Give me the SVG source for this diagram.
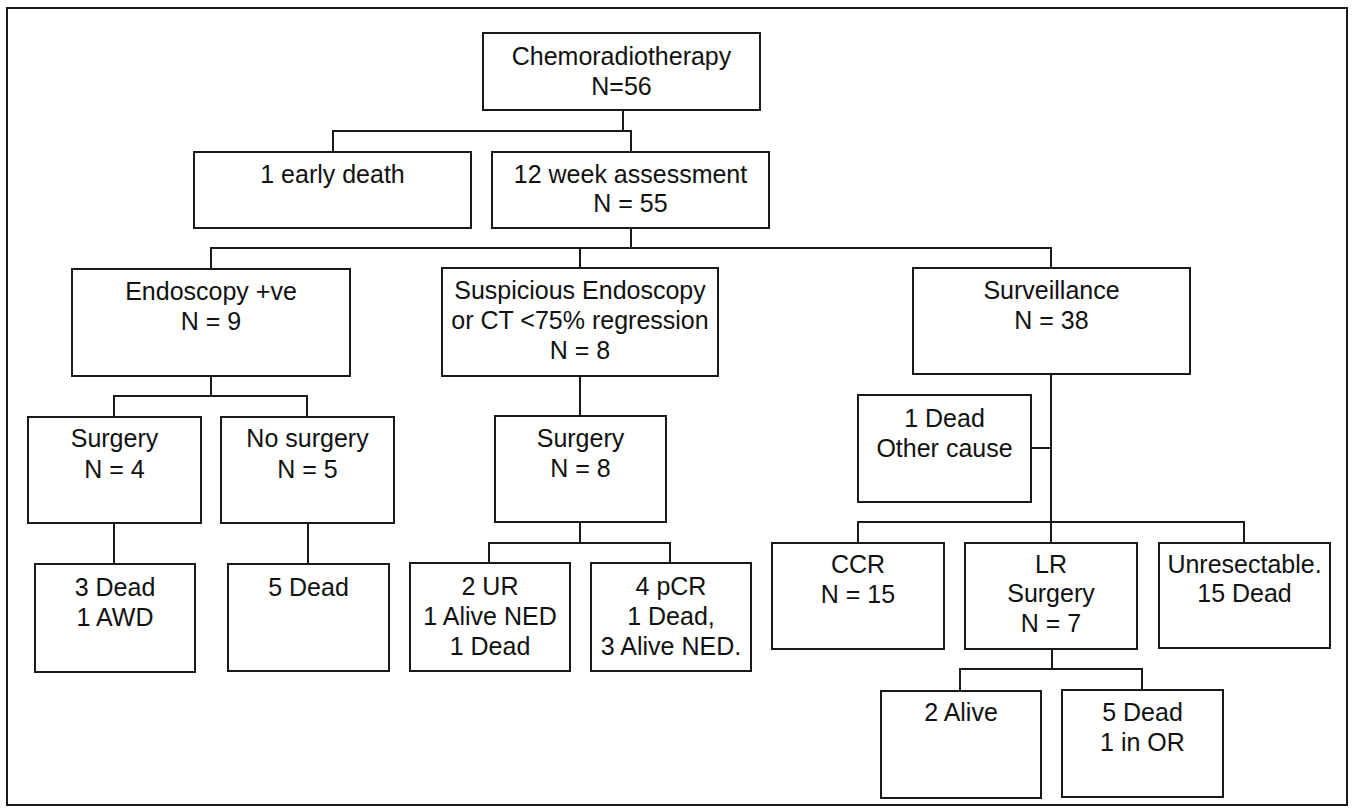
<svg xmlns="http://www.w3.org/2000/svg" width="1355" height="809" viewBox="0 0 1355 809">
<style>
  .box { fill: #ffffff; stroke: #1a1a1a; stroke-width: 2; }
  .conn { fill: none; stroke: #1a1a1a; stroke-width: 2; }
  text { font-family: "Liberation Sans", Arial, sans-serif; font-size: 25px; fill: #111111; text-anchor: middle; }
</style>
<rect x="0" y="0" width="1355" height="809" fill="#ffffff"/>
<rect x="7" y="8" width="1340" height="797" fill="none" stroke="#1a1a1a" stroke-width="2"/>
<g id="connectors">
  <path class="conn" d="M623 110 V131 M333 152 V131 H631 V152"/>
  <path class="conn" d="M631 228 V248 M211 269 V248 H1051 V268 M580 248 V268"/>
  <path class="conn" d="M211 376 V396 M114 417 V396 H307 V417"/>
  <path class="conn" d="M580 376 V416"/>
  <path class="conn" d="M1051 374 V543 M1031 448 H1051 M858 543 V522 H1244 V543"/>
  <path class="conn" d="M114 523 V564 M308 523 V564"/>
  <path class="conn" d="M580 522 V543 M489 563 V543 H670 V563"/>
  <path class="conn" d="M1052 649 V669 M960 691 V669 H1142 V690"/>
</g>
<g id="chemo"><rect class="box" x="483" y="33" width="277" height="77"/><text x="621.5" y="65">Chemoradiotherapy</text><text x="621.5" y="95">N=56</text></g>
<g id="early-death"><rect class="box" x="194" y="152" width="277" height="76"/><text x="332.5" y="183">1 early death</text></g>
<g id="week12"><rect class="box" x="492" y="152" width="277" height="76"/><text x="630.5" y="183">12 week assessment</text><text x="630.5" y="212">N = 55</text></g>
<g id="endoscopy"><rect class="box" x="72" y="269" width="278" height="107"/><text x="211" y="300">Endoscopy +ve</text><text x="211" y="330">N = 9</text></g>
<g id="suspicious"><rect class="box" x="442" y="268" width="276" height="108"/><text x="580" y="299">Suspicious Endoscopy</text><text x="580" y="329">or CT &lt;75% regression</text><text x="580" y="359">N = 8</text></g>
<g id="surveillance"><rect class="box" x="913" y="268" width="277" height="106"/><text x="1051.5" y="299">Surveillance</text><text x="1051.5" y="329">N = 38</text></g>
<g id="surgery4"><rect class="box" x="28" y="417" width="173" height="106"/><text x="114.5" y="447">Surgery</text><text x="114.5" y="478">N = 4</text></g>
<g id="nosurgery"><rect class="box" x="221" y="417" width="173" height="106"/><text x="307.5" y="447">No surgery</text><text x="307.5" y="478">N = 5</text></g>
<g id="surgery8"><rect class="box" x="495" y="416" width="171" height="106"/><text x="580.5" y="447">Surgery</text><text x="580.5" y="477">N = 8</text></g>
<g id="dead-other"><rect class="box" x="858" y="395" width="173" height="107"/><text x="944.5" y="427">1 Dead</text><text x="944.5" y="457">Other cause</text></g>
<g id="dead3"><rect class="box" x="35" y="564" width="160" height="108"/><text x="115" y="596">3 Dead</text><text x="115" y="626">1 AWD</text></g>
<g id="dead5"><rect class="box" x="228" y="564" width="161" height="107"/><text x="308.5" y="596">5 Dead</text></g>
<g id="ur2"><rect class="box" x="410" y="563" width="160" height="108"/><text x="490" y="595">2 UR</text><text x="490" y="625">1 Alive NED</text><text x="490" y="655">1 Dead</text></g>
<g id="pcr4"><rect class="box" x="591" y="563" width="160" height="108"/><text x="671" y="595">4 pCR</text><text x="671" y="625">1 Dead,</text><text x="671" y="655">3 Alive NED.</text></g>
<g id="ccr"><rect class="box" x="772" y="543" width="172" height="106"/><text x="858" y="573">CCR</text><text x="858" y="603">N = 15</text></g>
<g id="lr"><rect class="box" x="965" y="543" width="172" height="106"/><text x="1051" y="573">LR</text><text x="1051" y="602">Surgery</text><text x="1051" y="632">N = 7</text></g>
<g id="unresectable"><rect class="box" x="1159" y="543" width="171" height="105"/><text x="1244.5" y="573">Unresectable.</text><text x="1244.5" y="602">15 Dead</text></g>
<g id="alive2"><rect class="box" x="881" y="691" width="160" height="107"/><text x="961" y="721">2 Alive</text></g>
<g id="dead5or"><rect class="box" x="1062" y="690" width="161" height="107"/><text x="1142.5" y="721">5 Dead</text><text x="1142.5" y="751">1 in OR</text></g>
</svg>
